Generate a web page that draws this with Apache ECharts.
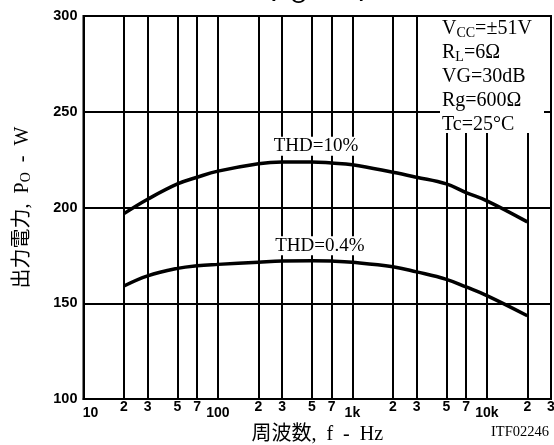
<!DOCTYPE html>
<html>
<head>
<meta charset="utf-8">
<script src="https://cdn.jsdelivr.net/npm/echarts@6/dist/echarts.min.js"></script>
<style>html,body{margin:0;padding:0;background:#fff}#c{width:554px;height:445px}</style>
</head>
<body>
<div id="c"></div>
<script>
// ---- data ----
var freqs = [20, 30, 50, 70, 100, 200, 300, 500, 700, 1000, 2000, 3000, 5000, 7000, 10000, 20000];
var thd10 = [196.8, 204.3, 212.3, 215.8, 219, 222.9, 223.8, 223.8, 223.2, 222.3, 218.4, 215.8, 212.3, 207.8, 203.5, 192.5];
var thd04 = [159, 164.3, 168.2, 169.6, 170.3, 171.4, 172, 172.2, 172, 171.4, 169.1, 166.4, 162.5, 158.5, 154, 143.5];
var seriesNames = ['THD=10%', 'THD=0.4%'];
var labelAt = [[536, 232], [573, 180]];
var gridFreqs = [20, 30, 50, 70, 100, 200, 300, 500, 700, 1000, 2000, 3000, 5000, 7000, 10000, 20000];
var xTickValues = [10, 20, 30, 50, 70, 100, 200, 300, 500, 700, 1000, 2000, 3000, 5000, 7000, 10000, 20000, 30000];
var xTickLabels = ['10', '2', '3', '5', '7', '100', '2', '3', '5', '7', '1k', '2', '3', '5', '7', '10k', '2', '3'];
var yTicks = [100, 150, 200, 250, 300];
var conditions = ['{m|V}{s|CC}{m|=±51V}', '{m|R}{s|L}{m|=6Ω}', '{m|VG=30dB}', '{m|Rg=600Ω}', '{m|Tc=25°C}'];

var serif = '"Liberation Serif", "Noto Sans CJK JP", serif';
var sans = '"Liberation Sans", Arial, sans-serif';

function pair(xs, ys) { return xs.map(function (x, i) { return [x, ys[i]]; }); }
function xLabel(v) {
  for (var i = 0; i < xTickValues.length; i++) {
    if (Math.abs(Math.log10(v) - Math.log10(xTickValues[i])) < 1e-4) {
      var t = xTickLabels[i];
      if (/^(10|100|1k|10k)$/.test(t)) return t === '10' ? '{e|' + t + '}' : '{d|' + t + '}';
      return t;
    }
  }
  return '';
}

var chart = echarts.init(document.getElementById('c'), null, { renderer: 'canvas' });
var lineStyle = { color: '#000', width: 3.5 };
function mkSeries(name, ys, lab, withGrid) {
  var s = {
    name: name, type: 'line', data: pair(freqs, ys), smooth: 0.4, showSymbol: false,
    symbol: 'none', lineStyle: lineStyle, silent: true, z: 5,
    markPoint: {
      symbol: 'circle', symbolSize: 1, itemStyle: { color: 'rgba(0,0,0,0)' }, silent: true,
      label: { show: true, position: 'inside', formatter: name, color: '#000', fontFamily: serif,
        fontSize: 19, backgroundColor: '#fff', padding: [0, 1] },
      data: [{ coord: lab }]
    }
  };
  if (withGrid) {
    s.markLine = {
      silent: true, symbol: 'none', label: { show: false },
      lineStyle: { color: '#000', width: 2, type: 'solid' },
      data: gridFreqs.map(function (f) { return { xAxis: f }; })
    };
  }
  return s;
}

var condRich = {
  m: { fontFamily: serif, fontSize: 20, lineHeight: 24, padding: [0, 0, 4, 0] },
  s: { fontFamily: serif, fontSize: 14, lineHeight: 24, padding: [4, 0, 0, 0] }
};
var graphics = [
  { type: 'rect', left: 440, top: 17, shape: { width: 104, height: 116 }, style: { fill: '#fff' }, z: 100 },
  { type: 'text', left: 270, top: -22, z: 101, style: {
      text: '{p|P}{s|O}{p|  –  f}', fill: '#000',
      rich: { p: { fontFamily: sans, fontSize: 30, lineHeight: 30 },
              s: { fontFamily: sans, fontSize: 22, lineHeight: 22, padding: [8, 0, 0, 0] } } } },
  { type: 'text', right: 5, top: 425, z: 101, style: {
      text: 'ITF02246', fill: '#000', fontFamily: serif, fontSize: 14.5 } }
];
conditions.forEach(function (t, i) {
  graphics.push({ type: 'text', left: 442, top: 19 + 24 * i, z: 101,
    style: { text: t, fill: '#000', fontFamily: serif, fontSize: 20, rich: condRich } });
});

chart.setOption({
  animation: false,
  backgroundColor: '#fff',
  grid: { left: 83.5, right: 3, top: 16, bottom: 46, show: true, borderColor: '#000', borderWidth: 2,
          containLabel: false, outerBoundsMode: 'none' },
  xAxis: {
    type: 'log', logBase: 10, min: 10, max: 30000,
    axisLine: { show: true, lineStyle: { color: '#000', width: 2 } },
    axisTick: { show: false },
    splitLine: { show: false },
    axisLabel: {
      customValues: xTickValues, formatter: xLabel, color: '#000', fontFamily: sans, fontWeight: 'bold',
      fontSize: 14, margin: 1, showMinLabel: true, showMaxLabel: true, hideOverlap: false,
      rich: { d: { fontFamily: sans, fontWeight: 'bold', fontSize: 14, padding: [6, 0, 0, 0] },
              e: { fontFamily: sans, fontWeight: 'bold', fontSize: 14, padding: [6, 0, 0, 14] } }
    },
    name: '周波数,  f  -  Hz', nameLocation: 'middle', nameGap: 20,
    nameTextStyle: { fontFamily: serif, fontSize: 20, color: '#000' }
  },
  yAxis: {
    type: 'value', min: 100, max: 300, interval: 50,
    axisLine: { show: true, lineStyle: { color: '#000', width: 2 } },
    axisTick: { show: false },
    splitLine: { show: true, lineStyle: { color: '#000', width: 2 } },
    axisLabel: { color: '#000', fontFamily: sans, fontWeight: 'bold', fontSize: 14.5, margin: 6 },
    name: '出力電力,  P{s|O}  -  W', nameLocation: 'middle', nameGap: 50,
    nameTextStyle: { fontFamily: serif, fontSize: 20, color: '#000',
      rich: { s: { fontFamily: serif, fontSize: 14, padding: [8, 0, 0, 0] } } }
  },
  series: [mkSeries(seriesNames[0], thd10, labelAt[0], true), mkSeries(seriesNames[1], thd04, labelAt[1], false)],
  graphic: graphics
});
</script>
</body>
</html>
